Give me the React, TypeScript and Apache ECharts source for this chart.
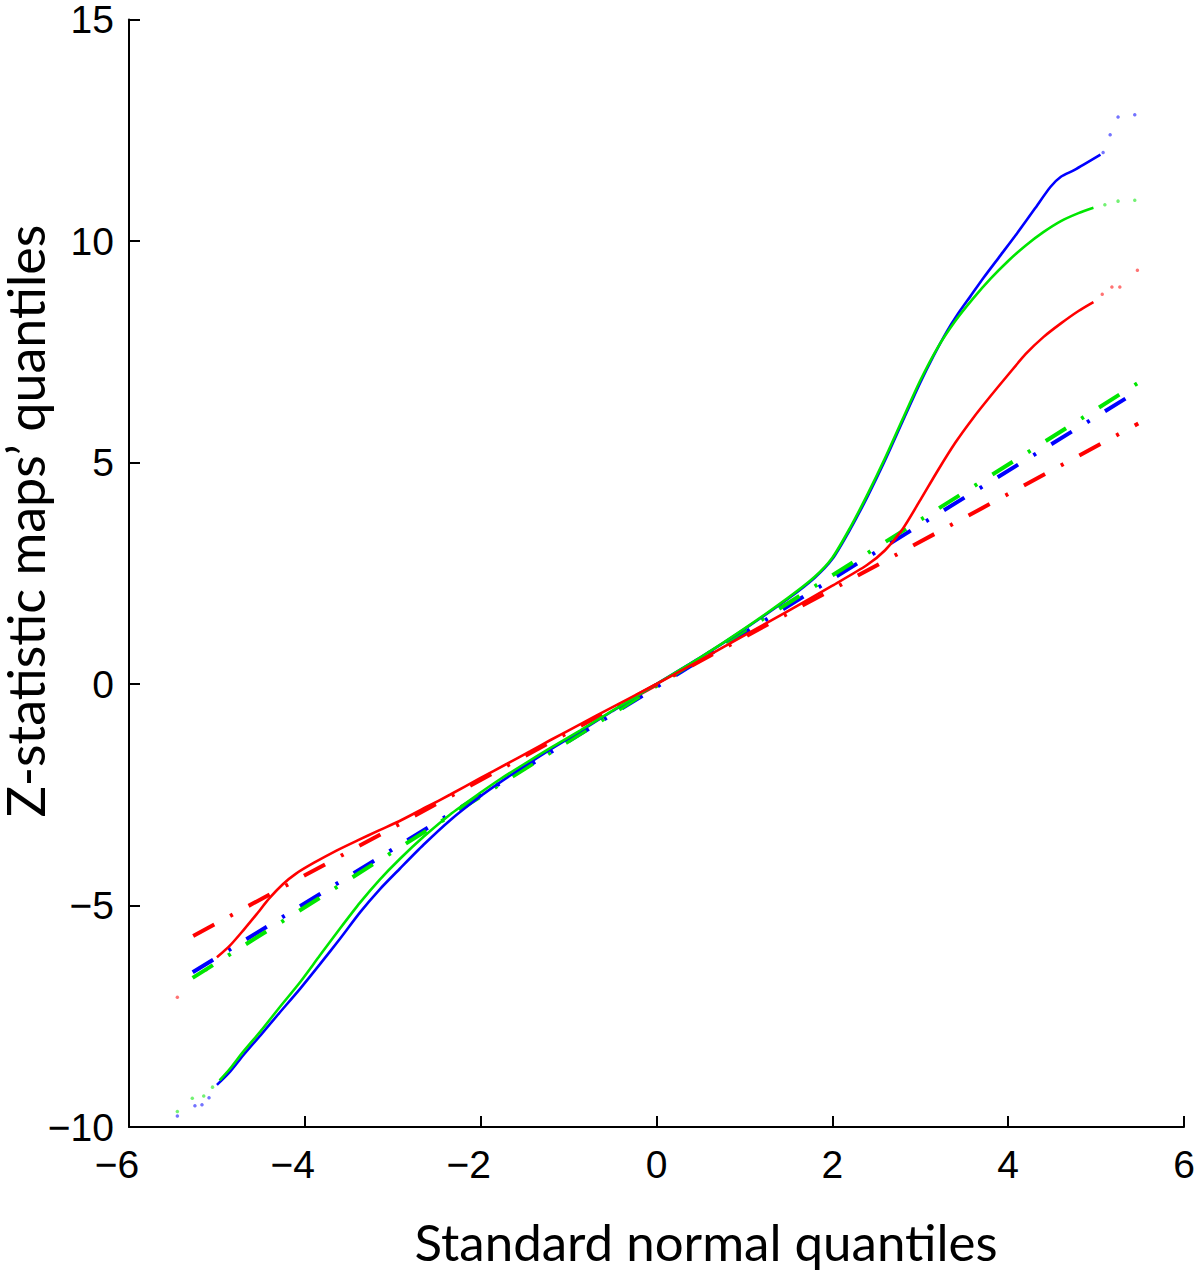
import React, { useEffect, useRef } from "react";
import * as echarts from "echarts";

// ---- data ----
const xRange = { min: -6, max: 6, step: 2 };
const yRange = { min: -10, max: 15, step: 5 };
const xTitle = "Standard normal quantiles";
const yTitle = "Z-statistic maps\u2019 quantiles";

const blueCurve: [number, number][] = [
  [-5.0, -9.05], [-4.85, -8.75], [-4.7, -8.38], [-4.5, -7.92], [-4.3, -7.45], [-4.05, -6.87],
  [-3.83, -6.33], [-3.6, -5.75], [-3.37, -5.15], [-3.15, -4.64], [-2.92, -4.17], [-2.65, -3.63],
  [-2.35, -3.08], [-2.0, -2.53], [-1.78, -2.22], [-1.5, -1.85], [-1.21, -1.48], [-0.87, -1.07],
  [-0.5, -0.61], [0, 0], [0.5, 0.6], [1.0, 1.24], [1.5, 1.93], [1.8, 2.4], [2.0, 2.82],
  [2.2, 3.48], [2.4, 4.23], [2.6, 5.05], [2.8, 5.93], [3.0, 6.8], [3.15, 7.4], [3.3, 7.95],
  [3.42, 8.33], [3.57, 8.75], [3.72, 9.17], [3.91, 9.67], [4.1, 10.17], [4.3, 10.72],
  [4.48, 11.22], [4.6, 11.45], [4.75, 11.6], [5.05, 11.95],
];
const greenCurve: [number, number][] = [
  [-4.97, -8.95], [-4.85, -8.68], [-4.7, -8.3], [-4.5, -7.83], [-4.3, -7.33], [-4.05, -6.72],
  [-3.83, -6.13], [-3.6, -5.52], [-3.37, -4.93], [-3.15, -4.42], [-2.92, -3.95], [-2.65, -3.45],
  [-2.35, -2.95], [-2.0, -2.45], [-1.78, -2.15], [-1.5, -1.8], [-1.21, -1.45], [-0.87, -1.05],
  [-0.5, -0.6], [0, 0], [0.5, 0.6], [1.0, 1.25], [1.5, 1.95], [1.8, 2.42], [2.0, 2.85],
  [2.2, 3.52], [2.4, 4.28], [2.6, 5.1], [2.8, 5.98], [3.0, 6.85], [3.2, 7.6], [3.4, 8.2],
  [3.6, 8.7], [3.8, 9.15], [4.0, 9.55], [4.2, 9.9], [4.4, 10.2], [4.6, 10.45], [4.8, 10.63],
  [4.97, 10.75],
];
const redCurve: [number, number][] = [
  [-5.0, -6.17], [-4.85, -5.9], [-4.7, -5.56], [-4.55, -5.2], [-4.4, -4.83], [-4.25, -4.52],
  [-4.1, -4.28], [-3.9, -4.04], [-3.64, -3.76], [-3.4, -3.53], [-3.15, -3.3], [-2.9, -3.07],
  [-2.6, -2.76], [-2.35, -2.5], [-2.0, -2.12], [-1.7, -1.8], [-1.44, -1.52], [-1.21, -1.27],
  [-0.87, -0.91], [-0.5, -0.52], [0, 0], [0.27, 0.29], [0.5, 0.54], [1.0, 1.1], [1.5, 1.65],
  [2.0, 2.22], [2.39, 2.68], [2.6, 3.02], [2.8, 3.5], [3.0, 4.15], [3.2, 4.82], [3.4, 5.45],
  [3.6, 6.0], [3.8, 6.5], [4.0, 6.98], [4.2, 7.45], [4.4, 7.83], [4.6, 8.14], [4.8, 8.42],
  [4.97, 8.62],
];

const blueTail: [number, number][] = [
  [-5.45, -9.75], [-5.25, -9.52], [-5.17, -9.5], [-5.09, -9.34],
  [5.08, 12.0], [5.16, 12.4], [5.25, 12.8], [5.44, 12.85],
];
const greenTail: [number, number][] = [
  [-5.45, -9.65], [-5.28, -9.35], [-5.15, -9.3], [-5.05, -9.1],
  [5.1, 10.82], [5.25, 10.9], [5.44, 10.92],
];
const redTail: [number, number][] = [
  [-5.45, -7.07], [-5.12, -6.45],
  [5.07, 8.8], [5.18, 8.96], [5.27, 8.96], [5.47, 9.34],
];

const blueRef: [number, number][] = [[-5.45, -6.72], [5.48, 6.62]];
const greenRef: [number, number][] = [[-5.45, -6.85], [5.48, 6.8]];
const redRef: [number, number][] = [[-5.45, -5.88], [5.48, 5.88]];

const BLUE = "#0000ff";
const GREEN = "#00e600";
const RED = "#ff0000";

const tickFont = "Liberation Sans";
const titleFont = "Lato";

function fmt(v: number): string {
  return v < 0 ? "{n|\u2212" + Math.abs(v) + "}" : "{p|" + v + "}";
}
function fmtY(v: number): string {
  return v < 0 ? "\u2212" + Math.abs(v) : String(v);
}

export default function App() {
  const ref = useRef<HTMLDivElement>(null);
  useEffect(() => {
    if (!ref.current) return;
    const chart = echarts.init(ref.current, undefined, { renderer: "svg" });
    const dash = [24, 18, 3, 18];
    const refLine = (name: string, data: [number, number][], color: string) => ({
      name,
      type: "line",
      data,
      showSymbol: false,
      silent: true,
      lineStyle: { color, width: 4, type: dash, dashOffset: 45 },
    });
    const curve = (name: string, data: [number, number][], color: string) => ({
      name,
      type: "line",
      data,
      showSymbol: false,
      silent: true,
      smooth: 0.25,
      lineStyle: { color, width: 2.6 },
    });
    const tail = (name: string, data: [number, number][], color: string) => ({
      name,
      type: "scatter",
      data,
      symbolSize: 3.5,
      silent: true,
      itemStyle: { color, opacity: 0.55 },
    });
    const axisCommon = {
      type: "value",
      splitLine: { show: false },
      axisLine: { show: true, onZero: false, lineStyle: { color: "#000", width: 2 } },
      axisTick: { show: true, inside: true, length: 11, lineStyle: { color: "#000", width: 2 } },
    };
    chart.setOption({
      animation: false,
      backgroundColor: "#ffffff",
      grid: { left: 129, right: 16, top: 16, bottom: 146, containLabel: false },
      xAxis: {
        ...axisCommon,
        min: xRange.min,
        max: xRange.max,
        interval: xRange.step,
        axisLabel: {
          margin: 18,
          color: "#000",
          fontFamily: tickFont,
          fontSize: 39,
          formatter: fmt,
          rich: {
            n: { fontFamily: tickFont, fontSize: 39, color: "#000", padding: [0, 24, 0, 0] },
            p: { fontFamily: tickFont, fontSize: 39, color: "#000" },
          },
        },
      },
      yAxis: {
        ...axisCommon,
        min: yRange.min,
        max: yRange.max,
        interval: yRange.step,
        axisLabel: {
          margin: 15,
          color: "#000",
          fontFamily: tickFont,
          fontSize: 39,
          lineHeight: 30,
          formatter: fmtY,
        },
      },
      graphic: [
        {
          type: "text",
          x: 706,
          y: 1241,
          style: {
            text: xTitle,
            fontFamily: titleFont,
            fontSize: 51,
            lineHeight: 40,
            fill: "#000",
            align: "center",
            verticalAlign: "middle",
          },
        },
        {
          type: "text",
          x: 25,
          y: 521,
          rotation: Math.PI / 2,
          style: {
            text: yTitle,
            fontFamily: titleFont,
            fontSize: 52,
            lineHeight: 40,
            fill: "#000",
            align: "center",
            verticalAlign: "middle",
          },
        },
      ],
      series: [
        refLine("blue fit", blueRef, BLUE),
        refLine("green fit", greenRef, GREEN),
        refLine("red fit", redRef, RED),
        curve("blue", blueCurve, BLUE),
        curve("green", greenCurve, GREEN),
        curve("red", redCurve, RED),
        tail("blue tail", blueTail, BLUE),
        tail("green tail", greenTail, GREEN),
        tail("red tail", redTail, RED),
      ],
    });
    return () => chart.dispose();
  }, []);
  return (
    <div
      ref={ref}
      style={{ position: "absolute", left: 0, top: 0, width: 1200, height: 1273, background: "#fff" }}
    />
  );
}
